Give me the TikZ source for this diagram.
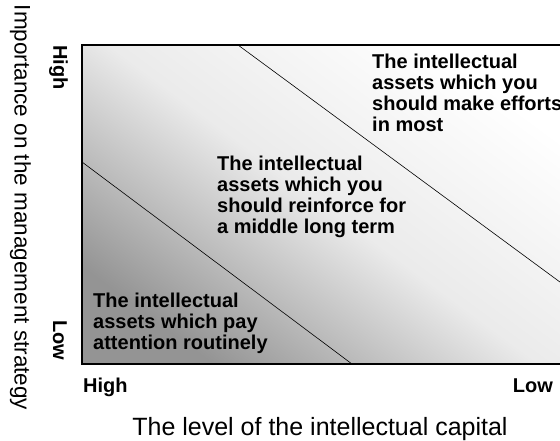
\documentclass[tikz,border=0pt]{standalone}
\usepackage{fontspec}
\setmainfont{Liberation Sans}
\usetikzlibrary{positioning}
\definecolor{qDark}{gray}{0.58}
\definecolor{qMid}{gray}{0.92}
\tikzset{
  zone/.style={font=\fontsize{20}{21}\selectfont\bfseries, align=left,
               anchor=north west, inner sep=0pt},
  tick/.style={font=\fontsize{20}{21}\selectfont\bfseries, inner sep=0pt},
  axislbl/.style={font=\fontsize{22.5}{26}\selectfont, inner sep=0pt},
  border/.style={draw=black, line width=1.6pt},
  divide/.style={draw=black, line width=0.6pt},
}

\begin{document}
\begin{tikzpicture}[x=1pt,y=-1pt]
  \useasboundingbox (0,0) rectangle (560,441);
  % corners of the portfolio square and the two dividing lines
  \coordinate (nw) at (82,45);
  \coordinate (se) at (564,364);
  \coordinate (a1) at (238,45);
  \coordinate (a2) at (564,285);
  \coordinate (b1) at (82,162);
  \coordinate (b2) at (352,364);
  \shade[bottom color=qDark, top color=white, middle color=qMid,
         shading angle=-36.5] (nw) rectangle (se);
  \draw[divide] (a1) -- (a2);
  \draw[divide] (b1) -- (b2);
  \draw[border] (nw) rectangle (se);
  % the three zones
  \node[zone] (hiZone) at (372,53.4) {The intellectual\\assets which you\\should make efforts\\in most};
  \node[zone] (midZone) at (217,155.4) {The intellectual\\assets which you\\should reinforce for\\a middle long term};
  \node[zone] (loZone) at (93,292.4) {The intellectual\\assets which pay\\attention routinely};
  % axis ends
  \node[tick, rotate=-90] (yHigh) at (58.5,67.5) {High};
  \node[tick, rotate=-90] (yLow) at (60,340) {Low};
  \node[tick, anchor=base west] (xHigh) at (83,392) {High};
  \node[tick, anchor=base east] (xLow) at (553,392) {Low};
  % axis titles
  \node[axislbl, rotate=-90] (yTitle) at (20.5,207.5) {Importance on the management strategy};
  \node[axislbl, font=\fontsize{25}{28}\selectfont, anchor=base] (xTitle) at (320,435) {The level of the intellectual capital};
\end{tikzpicture}
\end{document}
